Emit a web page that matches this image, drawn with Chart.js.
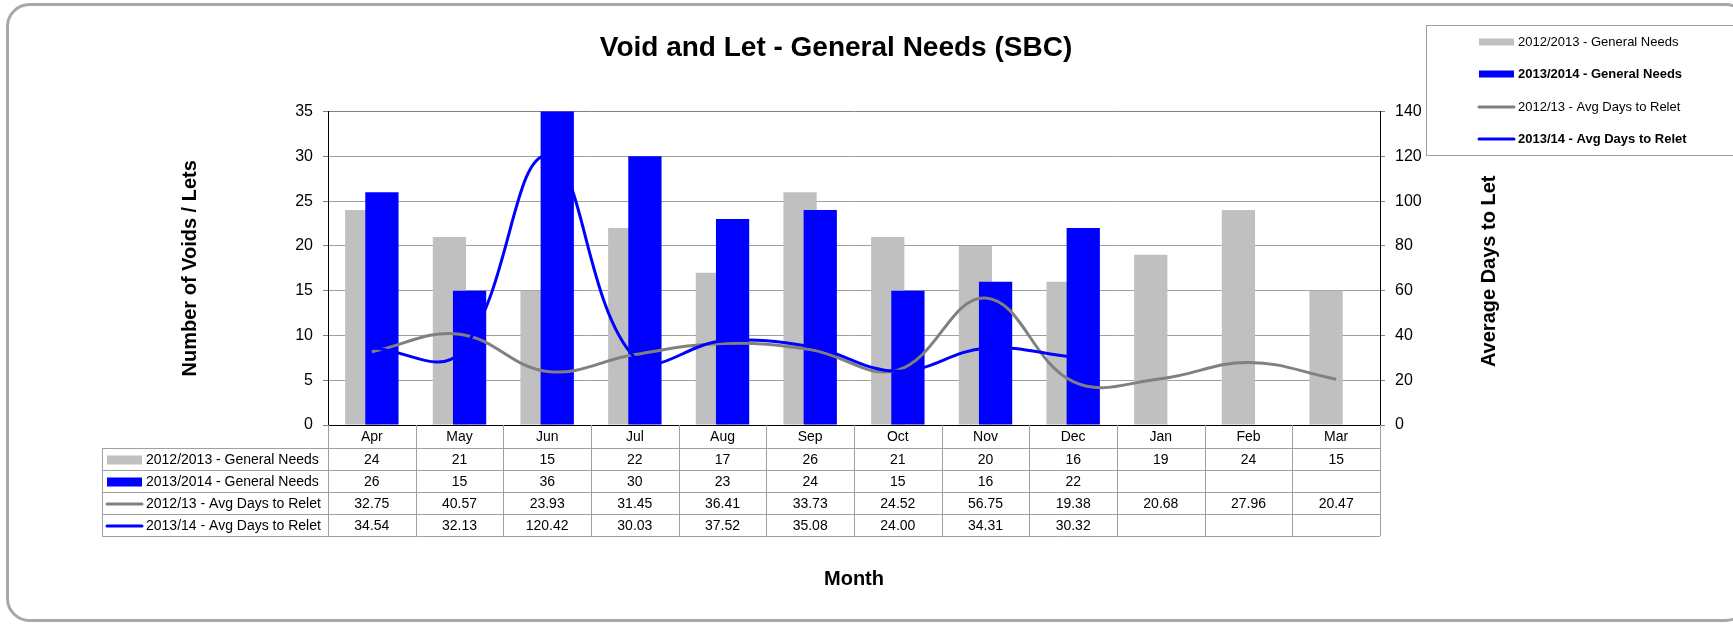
<!DOCTYPE html>
<html>
<head>
<meta charset="utf-8">
<title>Void and Let - General Needs (SBC)</title>
<script src="https://cdn.jsdelivr.net/npm/chart.js@4.4.0/dist/chart.umd.min.js"></script>
<style>
    html, body { margin: 0; padding: 0; background: #fff; }
    #wrap { width: 1733px; height: 625px; position: relative; }
</style>
</head>
<body>
<div id="wrap"><canvas id="chart-void-let"></canvas></div>
<script>
const months = ['Apr', 'May', 'Jun', 'Jul', 'Aug', 'Sep', 'Oct', 'Nov', 'Dec', 'Jan', 'Feb', 'Mar'];
const seriesNames = ['2012/2013 - General Needs', '2013/2014 - General Needs', '2012/13 - Avg Days to Relet', '2013/14 - Avg Days to Relet'];
const needs1213 = [24, 21, 15, 22, 17, 26, 21, 20, 16, 19, 24, 15];
const needs1314 = [26, 15, 36, 30, 23, 24, 15, 16, 22, null, null, null];
const days1213 = [32.75, 40.57, 23.93, 31.45, 36.41, 33.73, 24.52, 56.75, 19.38, 20.68, 27.96, 20.47];
const days1314 = [34.54, 32.13, 120.42, 30.03, 37.52, 35.08, 24.00, 34.31, 30.32, null, null, null];
const leftTicks = [0, 35, 5];     // min, max, step
const rightTicks = [0, 140, 20];

const FONT = "'Liberation Sans', Arial, Helvetica, sans-serif";
const GRAY_BAR = '#c0c0c0';
const BLUE = '#0000ff';
const GRAY_LINE = '#808080';
const RULE = '#a0a0a0';

Chart.defaults.font.family = FONT;
Chart.defaults.color = '#000';

// rows of the data table / legend, in the order they are listed
const rows = [
    { name: seriesNames[0], values: needs1213, kind: 'bar', color: GRAY_BAR, bold: false, digits: 0 },
    { name: seriesNames[1], values: needs1314, kind: 'bar', color: BLUE, bold: true, digits: 0 },
    { name: seriesNames[2], values: days1213, kind: 'line', color: GRAY_LINE, bold: false, digits: 2 },
    { name: seriesNames[3], values: days1314, kind: 'line', color: BLUE, bold: true, digits: 2 },
];

function drawSwatch(ctx, kind, color, x0, x1, y, barH) {
    if (kind === 'bar') {
        ctx.fillStyle = color;
        ctx.fillRect(x0, y - barH / 2, x1 - x0, barH);
    } else {
        ctx.strokeStyle = color;
        ctx.lineWidth = 3;
        ctx.lineCap = 'round';
        ctx.beginPath();
        ctx.moveTo(x0, y);
        ctx.lineTo(x1, y);
        ctx.stroke();
    }
}

function hline(ctx, x0, x1, y) {
    ctx.beginPath();
    ctx.moveTo(x0, y);
    ctx.lineTo(x1, y);
    ctx.stroke();
}

function vline(ctx, x, y0, y1) {
    ctx.beginPath();
    ctx.moveTo(x, y0);
    ctx.lineTo(x, y1);
    ctx.stroke();
}

// grey bars sit left of the blue ones but are painted underneath them
const barOrder = {
    id: 'barOrder',
    beforeDatasetDraw(chart, args) {
        if (args.index === 2) return false;
        if (args.index === 3) chart.getDatasetMeta(2).controller.draw();
    }
};

const dataTable = {
    id: 'dataTable',
    afterDraw(chart) {
        const { ctx, chartArea, scales: { x } } = chart;
        const step = x.getPixelForValue(1) - x.getPixelForValue(0);
        const left = chartArea.left;
        const right = chartArea.right;
        const top = chartArea.bottom;
        const headH = 23;
        const rowH = 22;
        const labelLeft = 102;
        const bottom = top + headH + rows.length * rowH;

        ctx.save();
        ctx.strokeStyle = RULE;
        ctx.lineWidth = 1;
        for (let r = 0; r <= rows.length; r++) {
            const y = Math.round(top + headH + r * rowH) + 0.5;
            hline(ctx, labelLeft, right, y);
        }
        for (let k = 0; k <= months.length; k++) {
            const xx = Math.round(left + k * step) + 0.5;
            vline(ctx, xx, top, bottom);
        }
        vline(ctx, labelLeft + 0.5, top + headH, bottom);

        ctx.textAlign = 'center';
        ctx.textBaseline = 'middle';
        ctx.fillStyle = '#000';
        ctx.font = '14px ' + FONT;
        months.forEach((m, i) => ctx.fillText(m, x.getPixelForValue(i), top + headH / 2 + 1));

        rows.forEach((row, r) => {
            const cy = top + headH + r * rowH + rowH / 2 + 1;
            drawSwatch(ctx, row.kind, row.color, 107, 142, cy, 9);
            ctx.fillStyle = '#000';
            ctx.textAlign = 'left';
            ctx.fillText(row.name, 146, cy);
            ctx.textAlign = 'center';
            row.values.forEach((v, i) => {
                if (v === null) return;
                ctx.fillText(v.toFixed(row.digits), x.getPixelForValue(i), cy);
            });
        });
        ctx.restore();
    }
};

const sideLegend = {
    id: 'sideLegend',
    afterDraw(chart) {
        const { ctx, chartArea } = chart;
        ctx.save();
        ctx.strokeStyle = RULE;
        ctx.lineWidth = 1;
        ctx.strokeRect(1426.5, 25.5, 330, 130);
        const ys = [42, 74, 107, 139];
        rows.forEach((row, i) => {
            drawSwatch(ctx, row.kind, row.color, 1479, 1514, ys[i], 7);
            ctx.fillStyle = '#000';
            ctx.font = (row.bold ? 'bold ' : '') + '13px ' + FONT;
            ctx.textAlign = 'left';
            ctx.textBaseline = 'middle';
            ctx.fillText(row.name, 1518, ys[i]);
        });

        // right axis title reads bottom-to-top like the left one
        ctx.translate(1489, (chartArea.top + chartArea.bottom) / 2 + 3);
        ctx.rotate(-Math.PI / 2);
        ctx.font = 'bold 20px ' + FONT;
        ctx.textAlign = 'center';
        ctx.fillText('Average Days to Let', 0, 0);
        ctx.setTransform(1, 0, 0, 1, 0, 0);

        // rounded frame round the whole chart
        ctx.strokeStyle = '#a8a8a8';
        ctx.beginPath();
        ctx.roundRect(7.5, 4.5, 1740, 616, 22);
        ctx.stroke();
        ctx.restore();
    }
};

const chart = new Chart(document.getElementById('chart-void-let'), {
    type: 'bar',
    data: {
        labels: months,
        datasets: [
            {
                type: 'line', label: seriesNames[3], data: days1314, yAxisID: 'y1',
                borderColor: BLUE, borderWidth: 3, pointRadius: 0, tension: 0.4, fill: false
            },
            {
                type: 'line', label: seriesNames[2], data: days1213, yAxisID: 'y1',
                borderColor: GRAY_LINE, borderWidth: 3, pointRadius: 0, tension: 0.4, fill: false
            },
            {
                label: seriesNames[0], data: needs1213, yAxisID: 'y',
                backgroundColor: GRAY_BAR, categoryPercentage: 0.46, barPercentage: 1.65
            },
            {
                label: seriesNames[1], data: needs1314, yAxisID: 'y',
                backgroundColor: BLUE, categoryPercentage: 0.46, barPercentage: 1.65
            }
        ]
    },
    options: {
        responsive: true,
        maintainAspectRatio: false,
        animation: false,
        layout: { padding: { left: 170, right: 231, top: 0, bottom: 30 } },
        plugins: {
            legend: { display: false },
            tooltip: { enabled: false },
            title: {
                display: true,
                text: 'Void and Let - General Needs (SBC)',
                font: { size: 28, weight: 'bold' },
                color: '#000',
                padding: { top: 31, bottom: 47 }
            }
        },
        scales: {
            x: {
                type: 'category',
                ticks: { display: false },
                grid: { drawOnChartArea: false, drawTicks: false },
                border: { display: true, color: '#000', width: 1 },
                title: {
                    display: true, text: 'Month', color: '#000',
                    font: { size: 20, weight: 'bold' },
                    padding: { top: 0, bottom: 4 }
                },
                afterFit: s => { s.height = 170; }
            },
            y: {
                position: 'left',
                min: leftTicks[0], max: leftTicks[1],
                ticks: { stepSize: leftTicks[2], padding: 10, font: { size: 16 }, color: '#000' },
                grid: {
                    color: c => (c.tick && c.tick.value === leftTicks[1]) ? '#808080' : RULE,
                    tickColor: '#808080', tickLength: 5
                },
                border: { display: true, color: '#000', width: 1 },
                title: {
                    display: true, text: 'Number of Voids / Lets', color: '#000',
                    font: { size: 20, weight: 'bold' },
                    padding: { top: 8, bottom: 0 }
                },
                afterFit: s => { s.width = 158; }
            },
            y1: {
                position: 'right',
                min: rightTicks[0], max: rightTicks[1],
                ticks: { stepSize: rightTicks[2], padding: 10, font: { size: 16 }, color: '#000' },
                grid: { drawOnChartArea: false, tickColor: '#808080', tickLength: 5 },
                border: { display: true, color: '#000', width: 1 },
                afterFit: s => { s.width = 122; }
            }
        }
    },
    plugins: [barOrder, dataTable, sideLegend]
});
</script>
</body>
</html>
